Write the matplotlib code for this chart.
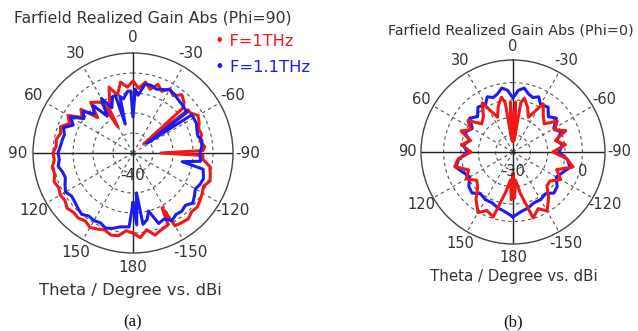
import numpy as np
import matplotlib
matplotlib.use("Agg")
import matplotlib.pyplot as plt

# ---- panel (a): Phi=90, gain in dBi vs theta in degrees ----
theta_a_red = [-180, -175, -170, -165, -160, -154, -152, -150, -145, -140, -135, -130, -125, -120,
               -115, -110, -105, -100, -95, -92, -90, -88, -85, -80, -75, -70, -65, -60, -55, -52,
               -50, -48, -45, -40, -35, -30, -25, -20, -15, -10, -5,
               0, 5, 10, 15, 20, 25, 28, 30, 32, 35, 40, 45, 50, 55, 60, 65, 70, 75, 80, 85, 90,
               95, 100, 105, 110, 115, 120, 125, 130, 135, 140, 145, 150, 155, 160, 165, 170,
               175, 180]
gain_a_red = [-10, -7.5, -11, -7.5, -9, -10, -19, -8, -7.5, -7, -8.5, -8, -9, -10,
              -11, -9, -10, -11, -15, -15, -36, -15, -14, -16, -14.5, -15, -13.5, -12.5, -15, -15,
              -43, -16, -14, -12, -15, -13, -16, -13.5, -17, -14, -17.5,
              -14, -17, -14, -20, -15, -22.5, -22, -35, -20, -19, -17, -25, -16, -19, -12.5, -15,
              -11.5, -12.5, -11, -11.5, -10,
              -10.5, -9, -9.5, -8, -9, -8, -8.5, -7, -8, -7.5, -8.5, -7, -8, -9, -7.5, -8,
              -11, -10]

theta_a_blue = [-180, -177, -175, -172, -168, -165, -160, -155, -150, -145, -140, -135, -130, -125,
                -120, -115, -110, -103, -100, -97, -90, -85, -80, -75, -70, -65, -60, -57, -55, -53,
                -50, -45, -40, -35, -30, -25, -20, -15, -10, -5, -2, 0, 2, 5, 10, 13, 15, 17, 20, 25,
                30, 35, 40, 45, 50, 55, 60, 65, 70, 75, 80, 85, 90, 95, 100, 105, 110, 115, 120,
                125, 130, 135, 140, 145, 150, 155, 160, 165, 170, 177, 180]
gain_a_blue = [-25, -14, -30, -14, -16, -20, -12.5, -13.5, -11, -12.5, -12, -13, -11, -12.5,
               -14, -13, -12.5, -14, -25, -16, -16.5, -15.5, -15, -16.5, -16, -15, -15, -15, -41.5, -16,
               -16, -15.5, -15, -14, -13.5, -15, -16, -15, -15, -21, -18, -32, -19, -19, -22.5, -21,
               -35, -20, -20, -25,
               -18.5, -27.5, -19, -22.5, -17.5, -20, -14, -17, -13, -14.5, -14, -13.5, -12.5, -13,
               -12, -13.5, -14, -12.5, -11, -12.5, -12, -11, -10, -11.5, -11, -11.5, -10, -11,
               -12.5, -13, -25]

# ---- panel (b): Phi=0 ----
theta_b_red = [-180, -178, -175, -170, -163, -156, -150, -142, -135, -128, -120, -112, -104, -97,
               -90, -82, -75, -68, -62, -55, -48, -40, -32, -24, -18, -12, -9, -6, -3,
               0, 3, 6, 9, 12, 18, 24, 32, 40, 48, 55, 62, 68, 75, 82, 90, 97, 104, 112, 120,
               128, 135, 142, 150, 156, 163, 170, 175, 178, 180]
gain_b_red = [-27.3, -13.5, -23.9, -15.8, -0.3, -4.3, -0.8, -6.6, -12.4, -12.9, -8.3, -12.9, -4.3, -8.9,
              -17.0, -9.5, -14.7, -7.2, -12.9, -8.9, -15.8, -12.9, -7.2, -18.1, -12.9, -8.3, -11.2, -33.1, -11.2,
              -34.0, -11.2, -33.1, -11.2, -7.7, -12.4, -18.1, -6.6, -13.5, -15.8, -8.3, -12.4, -7.7, -14.7,
              -10.0, -15.8, -8.3, -5.4, -12.4, -8.9, -13.5, -11.2, -5.4, 0.3, -3.1, -0.8, -17.0, -23.9,
              -12.4, -27.3]

theta_b_blue = [-180, -172, -165, -158, -150, -142, -135, -128, -120, -112, -105, -98, -90, -82,
                -75, -68, -60, -52, -45, -38, -30, -25, -20, -15, -10, -5,
                0, 5, 10, 15, 20, 25, 30, 38, 45, 52, 60, 68, 75, 82, 90, 98, 105, 112, 120,
                128, 135, 142, 150, 158, 165, 172, 180]
gain_b_blue = [-2.6, -5.4, -6.6, -8.3, -8.3, -9.5, -6.6, -7.7, -11.2, -8.9, -6.0, -8.3, -13.5, -11.2,
               -14.1, -10.0, -12.9, -8.3, -11.2, -7.2, -8.3, -4.9, -6.6, -5.4, -2.6, -4.3,
               -8.9, -4.3, -2.6, -5.4, -6.6, -4.9, -8.3, -7.2, -11.2, -8.3, -12.9, -10.0, -14.1, -11.2,
               -13.5, -8.3, -6.0, -8.9, -11.2, -7.7, -6.6, -9.5, -8.3, -8.3, -6.6, -5.4, -2.6]

theta_labels = [0, 30, 60, 90, 120, 150, 180, -150, -120, -90, -60, -30]

RED = "#f01818"
BLUE = "#1c1cf0"
TXT = "#333333"


def closed(theta, gain):
    t = np.deg2rad(np.append(theta, theta[0]))
    g = np.append(gain, gain[0])
    return t, g


def panel(fig, rect, rmin, rmax, rings, curves, lab_size):
    ax = fig.add_axes(rect, projection="polar")
    ax.set_theta_zero_location("N")
    ax.set_theta_direction(1)
    ax.set_rlim(rmin, rmax)
    ax.set_thetagrids(np.arange(0, 360, 30), labels=[])
    ax.set_rgrids(rings, labels=[])
    ax.grid(True, color="#555555", linestyle=(0, (3, 3)), linewidth=0.8)
    ax.spines["polar"].set_color("#444444")
    ax.spines["polar"].set_linewidth(1.0)
    ax.tick_params(length=0)

    # solid cross
    for a in (0, 90, 180, 270):
        ax.plot([np.deg2rad(a)] * 2, [rmin, rmax], color="#222222", lw=1.0, zorder=2)

    for theta, gain, col in curves:
        t, g = closed(theta, gain)
        ax.plot(t, g, color=col, lw=2.2, zorder=3, solid_joinstyle="round")

    rl = rmax + 0.15 * (rmax - rmin)
    for lab in theta_labels:
        ax.text(np.deg2rad(lab), rl, str(lab), ha="center", va="center",
                fontsize=lab_size, color=TXT)
    return ax


fig = plt.figure(figsize=(6.38, 3.31), dpi=100)

ax1 = panel(fig, [33 / 638, 1 - 253 / 331, 200 / 638, 200 / 331], -50, 0,
            [-40, -30, -20, -10],
            [(theta_a_red, gain_a_red, RED), (theta_a_blue, gain_a_blue, BLUE)], 11)
ax1.text(np.pi, -38.5, "-40", ha="center", va="center", fontsize=11, color=TXT)

ax2 = panel(fig, [421 / 638, 1 - 244 / 331, 184 / 638, 184 / 331], -40, 13,
            [-30, -20, -10, 0],
            [(theta_b_blue, gain_b_blue, BLUE), (theta_b_red, gain_b_red, RED)], 10.5)
ax2.text(np.pi, -29, "-30", ha="center", va="center", fontsize=10.5, color=TXT)
ax2.text(np.deg2rad(-106), 1.5, "0", ha="center", va="center", fontsize=10.5, color=TXT)

# titles, legend, axis captions
fig.text(153 / 638, 1 - 18 / 331, "Farfield Realized Gain Abs (Phi=90)", ha="center",
         va="center", fontsize=11.3, color=TXT)
fig.text(511 / 638, 1 - 30 / 331, "Farfield Realized Gain Abs (Phi=0)", ha="center",
         va="center", fontsize=10.4, color=TXT)
fig.text(215 / 638, 1 - 42 / 331, "\u2022 F=1THz", ha="left", va="center", fontsize=11.6, color=RED)
fig.text(215 / 638, 1 - 68 / 331, "\u2022 F=1.1THz", ha="left", va="center", fontsize=11.8, color=BLUE)
fig.text(130 / 638, 1 - 290 / 331, "Theta / Degree vs. dBi", ha="center", va="center",
         fontsize=11.8, color=TXT)
fig.text(514 / 638, 1 - 277 / 331, "Theta / Degree vs. dBi", ha="center", va="center",
         fontsize=10.8, color=TXT)
fig.text(133 / 638, 1 - 322 / 331, "(a)", ha="center", va="center", fontsize=12,
         family="Liberation Serif", color="#111111")
fig.text(513 / 638, 1 - 322 / 331, "(b)", ha="center", va="center", fontsize=12,
         family="Liberation Serif", color="#111111")

fig.savefig("out.png", dpi=100, facecolor="white")
